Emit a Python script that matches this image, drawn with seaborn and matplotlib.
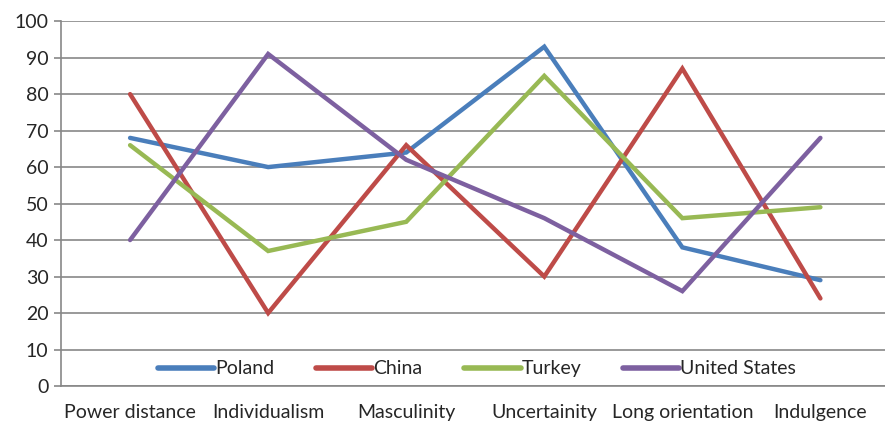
import pandas as pd
import matplotlib
matplotlib.use('Agg')
import matplotlib.pyplot as plt
import seaborn as sns

# Hofstede dimensions
dimensions = ['Power distance', 'Individualism', 'Masculinity',
              'Uncertainity', 'Long orientation', 'Indulgence']
poland = [68, 60, 64, 93, 38, 29]
china = [80, 20, 66, 30, 87, 24]
turkey = [66, 37, 45, 85, 46, 49]
united_states = [40, 91, 62, 46, 26, 68]

countries = {'Poland': poland, 'China': china, 'Turkey': turkey,
             'United States': united_states}
colors = ['#4A7EBB', '#BE4B48', '#98B954', '#7D60A0']

rows = []
for name, vals in countries.items():
    for i, v in enumerate(vals):
        rows.append({'pos': i, 'Country': name, 'Score': v})
df = pd.DataFrame(rows)

sns.set_style('white')
plt.rcParams['font.family'] = ['Lato', 'DejaVu Sans']

fig = plt.figure(figsize=(8.85, 4.23), dpi=100)
ax = fig.add_axes([0.069, 0.0875, 0.936, 0.8625])

sns.lineplot(data=df, x='pos', y='Score', hue='Country', palette=colors,
             linewidth=3.2, sort=False, ax=ax, legend=True)
for line in ax.lines:
    line.set_solid_capstyle('round')
    line.set_solid_joinstyle('miter')

ax.set_ylim(0, 100)
ax.set_xlim(-0.5, len(dimensions) - 0.5)
ax.set_yticks(range(0, 101, 10))
ax.yaxis.grid(True, color='#878787', linewidth=1.2)
ax.set_axisbelow(True)

fs = 14
ax.set_xticks(range(len(dimensions)))
ax.set_xticklabels(dimensions, fontsize=fs)
ax.set_xticks([i - 0.5 for i in range(len(dimensions) + 1)], minor=True)
ax.tick_params(axis='x', which='major', length=0, pad=13)
ax.tick_params(axis='x', which='minor', length=5, color='#878787', width=1.2)
ax.tick_params(axis='y', length=5, color='#878787', width=1.2, pad=4,
               labelsize=fs, left=True)

for s in ['top', 'right']:
    ax.spines[s].set_visible(False)
ax.spines['left'].set_color('#878787')
ax.spines['bottom'].set_color('#878787')
ax.spines['left'].set_linewidth(1.2)
ax.spines['bottom'].set_linewidth(1.2)

ax.set_xlabel('')
ax.set_ylabel('')

handles, labels = ax.get_legend_handles_labels()
leg = ax.legend(handles, labels, loc='center', bbox_to_anchor=(0.502, 0.047),
                ncol=4, frameon=False, fontsize=fs, handlelength=2.9,
                handletextpad=0.05, columnspacing=2.15, borderpad=0)
for h in leg.get_lines():
    h.set_linewidth(4)
    h.set_solid_capstyle('round')

fig.savefig('out.png', dpi=100)
